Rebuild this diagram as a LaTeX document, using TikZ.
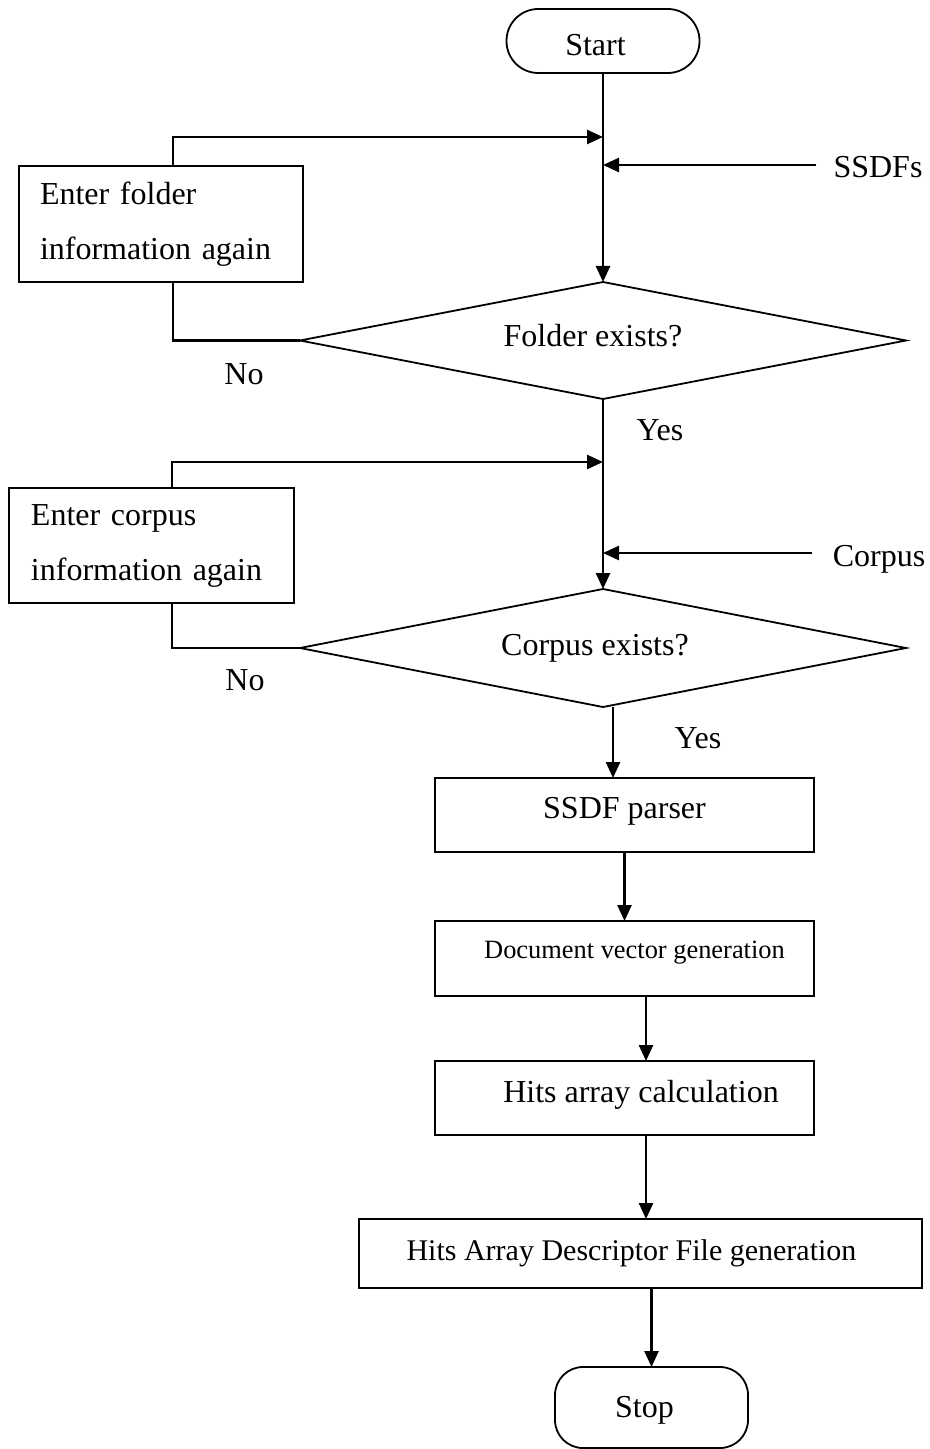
\documentclass[tikz,border=0pt]{standalone}
\usepackage{fontspec}
\setmainfont{Liberation Serif}
\usetikzlibrary{arrows.meta,shapes.geometric}

\begin{document}
\begin{tikzpicture}[x=0.5pt,y=-0.5pt,
  every node/.style={font=\fontsize{16}{27.5}\selectfont},
  shapebox/.style={draw, line width=0.9pt, inner sep=0pt, outer sep=0pt},
  procbox/.style={shapebox, rectangle},
  term/.style={shapebox, rectangle},
  decision/.style={shapebox, diamond, aspect=5},
  flow/.style={line width=1.25pt},
  arr/.style={flow, -{Triangle[length=8pt,width=7pt]}},
  lbl/.style={inner sep=0pt, text height=10.6pt, text depth=0pt}
]
\useasboundingbox (0,0) rectangle (930,1449);

% terminals
\node[term, rounded corners=15.9pt, minimum width=96.5pt, minimum height=32pt,
      text height=15pt, text depth=0pt] (start) at (603,41) {Start\hspace*{7.5pt}};
\node[term, rounded corners=14pt, minimum width=96.5pt, minimum height=40.5pt,
      text height=12pt, text depth=2.5pt] (stop) at (651.5,1407.5) {Stop\hspace*{7pt}};

% decisions
\node[decision, minimum width=303pt, minimum height=58.5pt,
      text height=11pt, text depth=5.5pt] (d1) at (603,340.5) {Folder exists?\hspace*{10pt}};
\node[decision, minimum width=303pt, minimum height=59pt,
      text height=11.5pt, text depth=4.5pt] (d2) at (603,648) {Corpus exists?\hspace*{8pt}};

% retry boxes
\node[procbox, minimum width=142pt, minimum height=58pt, text width=121pt,
      inner xsep=10.5pt, align=left] (box1) at (161,224) {Enter folder\\information again};
\node[procbox, minimum width=142.5pt, minimum height=57.5pt, text width=120.5pt,
      inner xsep=11pt, align=left] (box2) at (151.5,545.5) {Enter corpus\\information again};

% process boxes
\node[procbox, minimum width=189.5pt, minimum height=37pt,
      text height=10pt, text depth=7pt] (ssdf) at (624.5,815) {SSDF parser};
\node[procbox, minimum width=189.5pt, minimum height=37.5pt,
      font=\fontsize{13.2}{16}\selectfont, text height=6pt, text depth=6pt]
      (doc) at (624.5,958.5) {\hspace*{10pt}Document vector generation};
\node[procbox, minimum width=189.5pt, minimum height=37pt,
      text height=10pt, text depth=6pt] (hits) at (624.5,1098) {\hspace*{16.5pt}Hits array calculation};
\node[procbox, minimum width=281.5pt, minimum height=34.5pt,
      font=\fontsize{15}{18}\selectfont, text height=12pt, text depth=5.5pt]
      (hadf) at (640.5,1253.5) {Hits Array Descriptor File generation\hspace*{9pt}};

% side labels
\node[lbl, inner xsep=8.5pt] (ssdfs) at (878,167) {SSDFs};
\node[lbl, inner xsep=10pt] (corpus) at (879,556) {Corpus};
\node[lbl] (no1) at (244,374) {No};
\node[lbl] (no2) at (245,680) {No};
\node[lbl] (yes1) at (660,430) {Yes};
\node[lbl] (yes2) at (698,738) {Yes};

% junctions on main line
\coordinate (j1) at (603,137);
\coordinate (j2) at (603,165);
\coordinate (j3) at (603,462);
\coordinate (j4) at (603,553);

% main flow
\draw[arr] (start.south) -- (d1.north);
\draw[arr] (d1.south) -- (d2.north);
\draw[arr] ([xshift=5pt]d2.south) -- ([xshift=5pt]d2.south |- ssdf.north);
\draw[arr] (ssdf.south) -- (ssdf.south |- doc.north);
\draw[arr] ([xshift=10.75pt]doc.south) -- ([xshift=10.75pt]doc.south |- hits.north);
\draw[arr] ([xshift=10.75pt]hits.south) -- ([xshift=10.75pt]hits.south |- hadf.north);
\draw[arr] (stop.north |- hadf.south) -- (stop.north);

% inputs
\draw[arr] (ssdfs.west |- j2) -- (j2);
\draw[arr] (corpus.west |- j4) -- (j4);

% loops
\draw[flow] (d1.west) -| ([xshift=6pt]box1.south);
\draw[arr] ([xshift=6pt]box1.north) |- (j1);
\draw[flow] (d2.west) -| ([xshift=10.25pt]box2.south);
\draw[arr] ([xshift=10.25pt]box2.north) |- (j3);
\end{tikzpicture}
\end{document}
